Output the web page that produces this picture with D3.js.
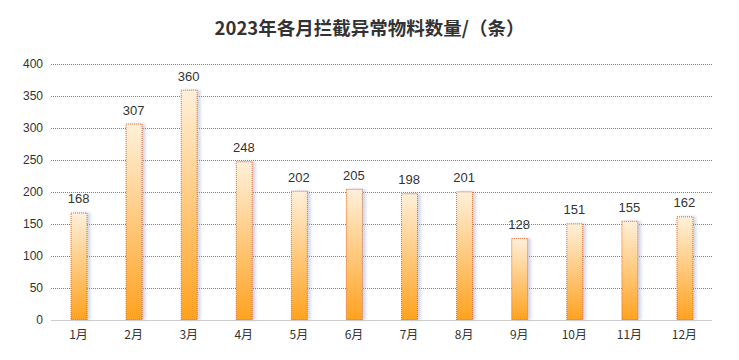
<!DOCTYPE html>
<html>
<head>
<meta charset="utf-8">
<script src="https://cdn.jsdelivr.net/npm/d3@7"></script>
<style>
body { margin: 0; background: #fff; }
svg text { font-family: "Noto Sans CJK SC", "Liberation Sans", sans-serif; }
</style>
</head>
<body>
<div id="chart"></div>
<script>
var months = ["1月","2月","3月","4月","5月","6月","7月","8月","9月","10月","11月","12月"]
var counts = [168, 307, 360, 248, 202, 205, 198, 201, 128, 151, 155, 162]
var yTicks = [0, 50, 100, 150, 200, 250, 300, 350, 400]

var width = 739
var height = 360
var plotLeft = 51, plotRight = 712, plotTop = 64, plotBottom = 320

var svg = d3.select("#chart")
    .append("svg")
    .attr("width", width)
    .attr("height", height)

var defs = svg.append("defs")
var grad = defs.append("linearGradient")
    .attr("id", "barGrad")
    .attr("x1", 0).attr("y1", 0).attr("x2", 0).attr("y2", 1)
grad.append("stop").attr("offset", "0%").attr("stop-color", "#fff0da")
grad.append("stop").attr("offset", "100%").attr("stop-color", "#ffa21f")

var shadow = defs.append("filter").attr("id", "shadow")
    .attr("x", "-50%").attr("y", "-10%").attr("width", "200%").attr("height", "120%")
shadow.append("feDropShadow")
    .attr("dx", 3).attr("dy", 0).attr("stdDeviation", 1.5)
    .attr("flood-color", "#9aa8d0").attr("flood-opacity", 0.45)

var xScale = d3.scaleBand()
    .domain(months)
    .range([plotLeft, plotRight])
    .paddingInner(0.71)
    .paddingOuter(0.355)

var yScale = d3.scaleLinear()
    .domain([0, 400])
    .range([plotBottom, plotTop])

// gridlines
svg.append("g")
    .selectAll("line")
    .data(yTicks.filter(function(d) { return d > 0 }))
    .enter()
    .append("line")
    .attr("x1", plotLeft)
    .attr("x2", plotRight)
    .attr("y1", function(d) { return yScale(d) + 0.5 })
    .attr("y2", function(d) { return yScale(d) + 0.5 })
    .attr("stroke", "#e0651a")
    .attr("stroke-width", 1)
    .attr("stroke-dasharray", "1,1")

// y axis labels
var yAxis = d3.axisLeft(yScale)
    .tickValues(yTicks)
    .tickSize(0)
    .tickPadding(8)
var yg = svg.append("g")
    .attr("transform", "translate(" + plotLeft + ",0)")
    .call(yAxis)
yg.select(".domain").remove()
yg.selectAll("text")
    .attr("fill", "#333")
    .style("font-size", "12px")
    .style("font-family", "Liberation Sans, sans-serif")

// bars
svg.append("g")
    .selectAll("rect")
    .data(counts)
    .enter()
    .append("rect")
    .attr("x", function(d, i) { return xScale(months[i]) + 0.5 })
    .attr("y", function(d) { return yScale(d) + 0.5 })
    .attr("width", xScale.bandwidth())
    .attr("height", function(d) { return plotBottom - yScale(d) - 0.5 })
    .attr("fill", "url(#barGrad)")
    .attr("stroke", "#e0651a")
    .attr("stroke-width", 1)
    .attr("stroke-dasharray", "1,1")
    .attr("filter", "url(#shadow)")

// baseline
svg.append("line")
    .attr("x1", plotLeft)
    .attr("x2", plotRight)
    .attr("y1", plotBottom + 0.5)
    .attr("y2", plotBottom + 0.5)
    .attr("stroke", "#cccccc")

// value labels
svg.append("g")
    .selectAll("text")
    .data(counts)
    .enter()
    .append("text")
    .text(function(d) { return d })
    .attr("x", function(d, i) { return xScale(months[i]) + xScale.bandwidth() / 2 })
    .attr("y", function(d) { return yScale(d) - 9 })
    .attr("text-anchor", "middle")
    .attr("fill", "#333")
    .style("font-size", "13px")
    .style("font-family", "Liberation Sans, sans-serif")

// x axis labels
var xAxis = d3.axisBottom(xScale)
    .tickSize(0)
    .tickPadding(10)
var xg = svg.append("g")
    .attr("transform", "translate(0," + plotBottom + ")")
    .call(xAxis)
xg.select(".domain").remove()
xg.selectAll("text")
    .attr("fill", "#333")
    .style("font-size", "12px")

// title
svg.append("text")
    .text("2023年各月拦截异常物料数量/（条）")
    .attr("x", width / 2)
    .attr("y", 35)
    .attr("text-anchor", "middle")
    .attr("fill", "#333")
    .style("font-size", "18.5px")
    .style("font-weight", "bold")
</script>
</body>
</html>
